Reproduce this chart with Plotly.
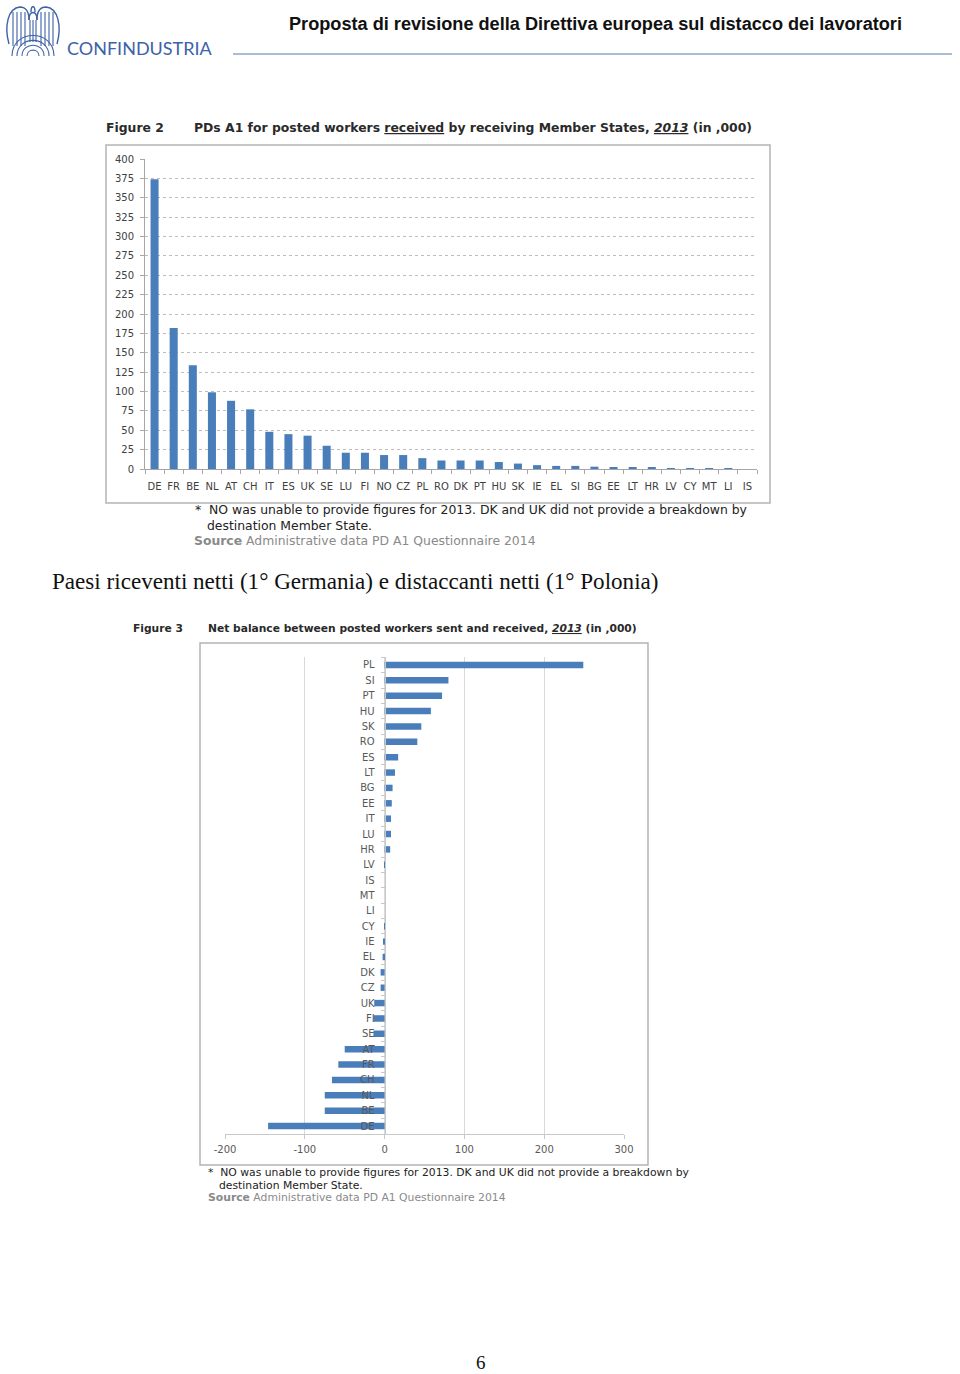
import plotly.graph_objects as go

W, H = 960, 1374


def px(x):
    return x / W


def py(y):
    return 1 - y / H


# ---------------- data ----------------
fig2_countries = ["DE", "FR", "BE", "NL", "AT", "CH", "IT", "ES", "UK", "SE", "LU", "FI",
                  "NO", "CZ", "PL", "RO", "DK", "PT", "HU", "SK", "IE", "EL", "SI", "BG",
                  "EE", "LT", "HR", "LV", "CY", "MT", "LI", "IS"]
fig2_values = [374, 182, 134, 99, 88, 77, 48, 45, 43, 30, 21, 21,
               18, 18, 14, 11, 11, 11, 9, 7, 5, 4, 4, 3,
               2.5, 2, 2, 1, 1, 1, 1, 0]
fig2_yticks = [0, 25, 50, 75, 100, 125, 150, 175, 200, 225, 250, 275, 300, 325, 350, 375, 400]

fig3_countries = ["PL", "SI", "PT", "HU", "SK", "RO", "ES", "LT", "BG", "EE", "IT", "LU",
                  "HR", "LV", "IS", "MT", "LI", "CY", "IE", "EL", "DK", "CZ", "UK", "FI",
                  "SE", "AT", "FR", "CH", "NL", "BE", "DE"]
fig3_values = [249, 80, 72, 58, 46, 41, 17, 13, 10, 9, 8, 8,
               7, 1.5, 0, 0, 0, -0.5, -1, -2.5, -5, -5, -13, -14,
               -14, -50, -58, -66, -75, -75, -146]
fig3_xticks = [-200, -100, 0, 100, 200, 300]
fig3_xticklabels = ["-200", "-100", "0", "100", "200", "300"]

BLUE = "#4a7ebb"
SANS = "DejaVu Sans"
TXT = "#333333"

fig = go.Figure()
fig.add_trace(go.Bar(x=fig2_countries, y=fig2_values, marker_color=BLUE, marker_line_width=0,
                     width=0.42, xaxis="x", yaxis="y", hoverinfo="skip"))
fig.add_trace(go.Bar(x=fig3_values, y=fig3_countries, orientation="h", marker_color=BLUE,
                     marker_line_width=0, width=0.42, xaxis="x2", yaxis="y2", hoverinfo="skip"))

x2_dom = [px(225), px(624)]
zero_pos = x2_dom[0] + (0 - (-200)) / 500 * (x2_dom[1] - x2_dom[0])

fig.update_layout(
    template="none",
    width=W, height=H, margin=dict(l=0, r=0, t=0, b=0, pad=0, autoexpand=False),
    paper_bgcolor="white", plot_bgcolor="rgba(0,0,0,0)",
    showlegend=False,
    xaxis=dict(domain=[px(145), px(757)], anchor="y", type="category", automargin=False,
               categoryorder="array", categoryarray=fig2_countries, tickangle=0,
               showline=True, linecolor="#a6a6a6", linewidth=1,
               ticks="outside", tickson="boundaries", ticklen=4, tickcolor="#a6a6a6",
               ticklabelstandoff=8,
               tickfont=dict(family=SANS, size=10, color="#404040"), showgrid=False,
               zeroline=False),
    yaxis=dict(domain=[py(469), py(159)], anchor="x", range=[0, 400], automargin=False,
               tickvals=fig2_yticks, showgrid=True, gridcolor="#bdbdbd", griddash="dot",
               gridwidth=1, zeroline=False, showline=True, linecolor="#a6a6a6",
               ticks="outside", ticklen=4, tickcolor="#a6a6a6", ticklabelstandoff=4,
               tickfont=dict(family=SANS, size=10, color="#404040")),
    xaxis2=dict(domain=x2_dom, anchor="y2", range=[-200, 300], tickvals=fig3_xticks,
                ticktext=fig3_xticklabels,
                automargin=False, tickangle=0, ticklabelstandoff=2,
                showgrid=True, gridcolor="#d9d9d9", gridwidth=1, zeroline=False,
                showline=True, linecolor="#c8c8c8", ticks="outside", ticklen=4,
                tickcolor="#c8c8c8",
                tickfont=dict(family=SANS, size=10, color="#595959")),
    yaxis2=dict(domain=[py(1133.7), py(657.3)], anchor="free", position=zero_pos,
                automargin=False, ticklabelstandoff=8,
                type="category", categoryorder="array", categoryarray=fig3_countries,
                autorange="reversed", showline=True, linecolor="#c8c8c8",
                ticks="outside", tickson="boundaries", ticklen=4, tickcolor="#c8c8c8",
                tickfont=dict(family=SANS, size=10, color="#595959"), showgrid=False,
                zeroline=False),
)

shapes = []


def rect(x0, y0, x1, y1, color="#b4b4b4", w=1.5):
    shapes.append(dict(type="rect", xref="paper", yref="paper", x0=px(x0), x1=px(x1),
                       y0=py(y1), y1=py(y0), line=dict(color=color, width=w),
                       fillcolor="rgba(0,0,0,0)", layer="below"))


def line(x0, y0, x1, y1, color, w=1):
    shapes.append(dict(type="line", xref="paper", yref="paper", x0=px(x0), x1=px(x1),
                       y0=py(y0), y1=py(y1), line=dict(color=color, width=w)))


def path(pts_cmds, color="#3d62a8", w=1.4):
    s = ""
    for c in pts_cmds:
        if isinstance(c, str):
            s += c + " "
        else:
            s += "%.5f,%.5f " % (px(c[0]), py(c[1]))
    shapes.append(dict(type="path", xref="paper", yref="paper", path=s.strip(),
                       line=dict(color=color, width=w), fillcolor="rgba(0,0,0,0)"))


# chart frames
rect(106, 145, 770, 503)
rect(200, 643, 648, 1165)
# header rule
line(233, 54, 952, 54, "#5b7bb0", 1.2)

# logo (stylised eagle)
LOGO = "#3d62a8"
path(["M", (9, 44), "C", (4, 26), (8, 8), (20, 7), "C", (26, 7), (29, 12), (29, 20)], LOGO)
path(["M", (57, 44), "C", (62, 26), (58, 8), (46, 7), "C", (40, 7), (37, 12), (37, 20)], LOGO)
path(["M", (29, 20), "C", (29, 10), (37, 10), (37, 20)], LOGO)
path(["M", (31, 12), "C", (31, 5), (35, 5), (35, 12)], LOGO)
for xv in (13, 17, 21, 25):
    path(["M", (xv, 12), "L", (xv, 46)], LOGO, 1.1)
for xv in (41, 45, 49, 53):
    path(["M", (xv, 12), "L", (xv, 46)], LOGO, 1.1)
for xv in (30, 33, 36):
    path(["M", (xv, 20), "L", (xv, 42)], LOGO, 1.1)
for r in (6, 11, 16, 21):
    path(["M", (33 - r, 56), "C", (33 - r, 56 - 1.3 * r), (33 + r, 56 - 1.3 * r), (33 + r, 56)], LOGO, 1.1)

fig.update_layout(shapes=shapes)

ann = []


def text(x, y, s, size, color=TXT, family=SANS, xanchor="left", yanchor="middle"):
    ann.append(dict(xref="paper", yref="paper", x=px(x), y=py(y), text=s, showarrow=False,
                    xanchor=xanchor, yanchor=yanchor,
                    font=dict(family=family, size=size, color=color)))


# header
text(65, 48, "CONFINDUSTRIA", 18, LOGO, "Lato")
text(904, 24, "<b>Proposta di revisione della Direttiva europea sul distacco dei lavoratori</b>",
     18.15, "#111111", "Liberation Sans", "right")

# figure 2 texts
text(104, 127, "<b>Figure 2</b>", 12.4, "#2a2a2a")
text(192, 127, "<b>PDs A1 for posted workers <u>received</u> by receiving Member States, "
     "<i><u>2013</u></i> (in ,000)</b>", 12.4, "#2a2a2a")
text(193, 510, "*  NO was unable to provide figures for 2013. DK and UK did not provide a breakdown by",
     12.4, "#222222")
text(205, 525, "destination Member State.", 12.4, "#222222")
text(192, 541, "<b>Source</b> Administrative data PD A1 Questionnaire 2014", 12.4, "#8a8a8a")

# body text
text(50, 581, "Paesi riceventi netti (1° Germania) e distaccanti netti (1° Polonia)", 23.1,
     "#111111", "Liberation Serif")

# figure 3 texts
text(131, 629, "<b>Figure 3</b>", 10.7, "#2a2a2a")
text(206, 629, "<b>Net balance between posted workers sent and received, <i><u>2013</u></i> (in ,000)</b>",
     10.7, "#2a2a2a")
text(206, 1172, "*  NO was unable to provide figures for 2013. DK and UK did not provide a breakdown by",
     10.8, "#222222")
text(217, 1185, "destination Member State.", 10.8, "#222222")
text(206, 1197, "<b>Source</b> Administrative data PD A1 Questionnaire 2014", 10.8, "#8a8a8a")

# page number
text(481, 1375, "6", 19, "#111111", "Liberation Serif", "center", "bottom")

fig.update_layout(annotations=ann)
fig.write_html("out.html", config={"displayModeBar": False},
               post_script="document.body.style.margin='0';document.body.style.overflow='hidden';")
